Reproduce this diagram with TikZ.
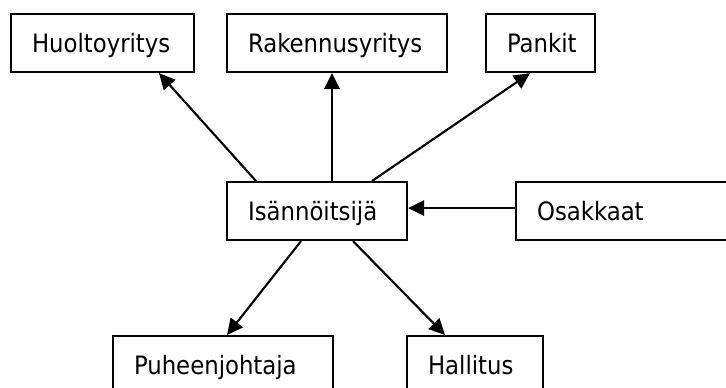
\documentclass[tikz,border=0pt]{standalone}
\usepackage{fontspec}
\setmainfont{DejaVu Sans Condensed}
\usetikzlibrary{arrows.meta}
\tikzset{
  box/.style={draw, line width=1.6pt, rectangle, anchor=north west, align=left,
    inner xsep=15.75pt, inner ysep=0pt, minimum height=43.5pt,
    text height=13.5pt, text depth=0pt, font=\fontsize{19pt}{23pt}\selectfont},
  conn/.style={line width=1.6pt, -{Triangle[length=12pt,width=11.5pt]}}
}
\begin{document}
\begin{tikzpicture}[x=0.75pt,y=-0.75pt]
\useasboundingbox (0,0) rectangle (726,388);
\clip (0,0) rectangle (726,388);
\node[box, text width=105.75pt] (huolto) at (10,13) {Huoltoyritys};
\node[box, text width=133.5pt] (rak) at (226,13) {Rakennusyritys};
\node[box, text width=50.25pt] (pankit) at (485,13) {Pankit};
\node[box, text width=103.5pt] (isa) at (226,181) {Isännöitsijä};
\node[box, text width=156pt] (osa) at (515,181) {Osakkaat};
\node[box, text width=133.5pt] (puh) at (112,335) {Puheenjohtaja};
\node[box, text width=70.5pt] (hal) at (406,335) {Hallitus};
\draw[conn] ([xshift=22.5pt]isa.north west) -- ([xshift=111.75pt]huolto.south west);
\draw[conn] ([xshift=79.5pt]isa.north west) -- ([xshift=79.5pt]rak.south west);
\draw[conn] ([xshift=109.5pt]isa.north west) -- ([xshift=33.75pt]pankit.south west);
\draw[conn] ([yshift=2.25pt]osa.west) -- ([yshift=2.25pt]isa.east);
\draw[conn] ([xshift=56.25pt]isa.south west) -- ([xshift=86.25pt]puh.north west);
\draw[conn] ([xshift=95.25pt]isa.south west) -- ([xshift=29.25pt]hal.north west);
\end{tikzpicture}
\end{document}
